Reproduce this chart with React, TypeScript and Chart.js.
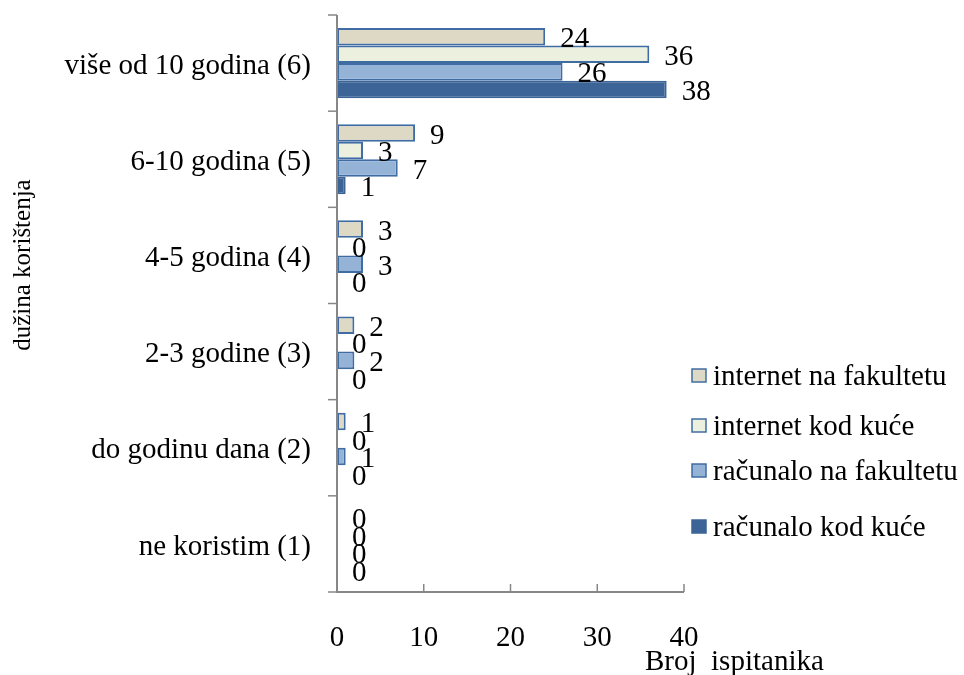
import React, { useEffect, useRef } from "react";
import { Chart, registerables } from "chart.js";

Chart.register(...registerables);

const categories = [
  "više od 10 godina (6)",
  "6-10 godina (5)",
  "4-5 godina (4)",
  "2-3 godine (3)",
  "do godinu dana (2)",
  "ne koristim (1)",
];
const seriesNames = [
  "internet na fakultetu",
  "internet kod kuće",
  "računalo na fakultetu",
  "računalo kod kuće",
];
const internetFakultet = [24, 9, 3, 2, 1, 0];
const internetKuca = [36, 3, 0, 0, 0, 0];
const racunaloFakultet = [26, 7, 3, 2, 1, 0];
const racunaloKuca = [38, 1, 0, 0, 0, 0];
const xTickValues = [0, 10, 20, 30, 40];
const yAxisTitle = "dužina korištenja";
const xAxisTitle = "Broj  ispitanika";

const fills = ["#DDD9C4", "#EBF1DE", "#95B3D7", "#3C6497"];
const borders = ["#3F6CA3", "#3F6CA3", "#3F6CA3", "#3C6497"];
const FONT = "'Liberation Serif', 'Times New Roman', serif";
const AXIS = "#878787";

const overlay = {
  id: "overlay",
  afterDatasetsDraw(chart: any) {
    const ctx = chart.ctx;
    const xs = chart.scales.x;
    const ys = chart.scales.y;
    const area = chart.chartArea;
    ctx.save();
    // axes
    ctx.strokeStyle = AXIS;
    ctx.lineWidth = 2;
    ctx.beginPath();
    ctx.moveTo(area.left, area.top);
    ctx.lineTo(area.left, area.bottom);
    ctx.lineTo(area.right, area.bottom);
    ctx.stroke();
    ctx.lineWidth = 1.5;
    // y category boundary ticks (outside, left)
    const n = categories.length;
    for (let i = 0; i <= n; i++) {
      const y = area.top + ((area.bottom - area.top) * i) / n;
      ctx.beginPath();
      ctx.moveTo(area.left - 9, y);
      ctx.lineTo(area.left, y);
      ctx.stroke();
    }
    // x ticks (inside, up)
    xTickValues.forEach((v) => {
      const x = xs.getPixelForValue(v);
      ctx.beginPath();
      ctx.moveTo(x, area.bottom);
      ctx.lineTo(x, area.bottom - 8);
      ctx.stroke();
    });
    // data labels
    ctx.fillStyle = "#000";
    ctx.font = `29px ${FONT}`;
    ctx.textAlign = "left";
    ctx.textBaseline = "middle";
    chart.data.datasets.forEach((ds: any, di: number) => {
      const meta = chart.getDatasetMeta(di);
      meta.data.forEach((el: any, i: number) => {
        ctx.fillText(String(ds.data[i]), el.x + 15, el.y + 3);
      });
    });
    // legend
    const rows = [376, 426, 471, 527];
    chart.data.datasets.forEach((ds: any, di: number) => {
      const ry = rows[di];
      ctx.fillStyle = ds.backgroundColor;
      ctx.fillRect(692, ry - 7, 14, 13);
      ctx.strokeStyle = ds.borderColor;
      ctx.lineWidth = 1.5;
      ctx.strokeRect(692, ry - 7, 14, 13);
      ctx.fillStyle = "#000";
      ctx.font = `29px ${FONT}`;
      ctx.textBaseline = "middle";
      ctx.fillText(ds.label, 713, ry + 1);
    });
    // x title
    ctx.textBaseline = "alphabetic";
    ctx.fillText(xAxisTitle, 645, 670);
    // y title
    ctx.translate(23, ys.getPixelForValue(2.1));
    ctx.rotate(-Math.PI / 2);
    ctx.textAlign = "center";
    ctx.textBaseline = "middle";
    ctx.font = `25px ${FONT}`;
    ctx.fillText(yAxisTitle, 0, 0);
    ctx.restore();
  },
};

export default function App() {
  const ref = useRef<HTMLCanvasElement>(null);
  useEffect(() => {
    if (!ref.current) return;
    const seriesData = [internetFakultet, internetKuca, racunaloFakultet, racunaloKuca];
    const chart = new Chart(ref.current, {
      type: "bar",
      data: {
        labels: categories,
        datasets: seriesData.map((d, i) => ({
          label: seriesNames[i],
          data: d,
          backgroundColor: fills[i],
          borderColor: borders[i],
          borderWidth: 2,
          borderSkipped: false,
          categoryPercentage: 0.73,
          barPercentage: 1.0,
        })),
      },
      options: {
        indexAxis: "y",
        responsive: false,
        animation: false,
        layout: { padding: { top: 15, right: 280, left: 0, bottom: 0 } },
        plugins: {
          legend: { display: false },
          tooltip: { enabled: false },
        },
        scales: {
          x: {
            min: 0,
            max: 40,
            grid: { display: false },
            border: { display: false },
            ticks: {
              stepSize: 10,
              padding: 21,
              color: "#000",
              font: { family: FONT, size: 29 },
              maxRotation: 0,
            },
            afterFit(scale: any) {
              scale.height = 83;
              scale.paddingLeft = 0;
              scale.paddingRight = 0;
            },
          },
          y: {
            grid: { display: false },
            border: { display: false },
            ticks: {
              padding: 18,
              labelOffset: 3,
              color: "#000",
              font: { family: FONT, size: 29 },
            },
            afterFit(scale: any) {
              scale.width = 337;
              scale.paddingTop = 0;
              scale.paddingBottom = 0;
            },
          },
        },
      },
      plugins: [overlay],
    });
    return () => chart.destroy();
  }, []);
  return (
    <div style={{ position: "absolute", left: 0, top: 0, width: 964, height: 675, background: "#fff" }}>
      <canvas ref={ref} width={964} height={675} style={{ display: "block" }} />
    </div>
  );
}
